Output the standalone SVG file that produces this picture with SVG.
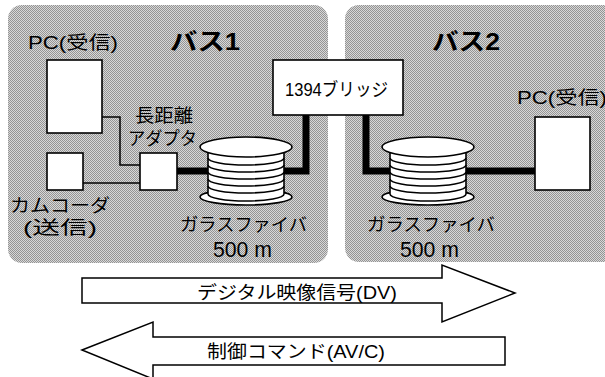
<svg xmlns="http://www.w3.org/2000/svg" width="605" height="377" viewBox="0 0 605 377">
  <defs>
    <!-- dithered grey used for the two bus areas -->
    <pattern id="dither" width="2" height="2" patternUnits="userSpaceOnUse">
      <rect width="2" height="2" fill="#d8d8d8"/>
      <rect x="0" y="0" width="1" height="1" fill="#949494"/>
      <rect x="1" y="1" width="1" height="1" fill="#949494"/>
    </pattern>
    <!-- fibre spool, origin at the centre of its top face -->
    <g id="spool">
      <ellipse cx="0" cy="50" rx="46" ry="8" class="box"/>
      <path d="M-38,0 V47 A38,7 0 0 0 38,47 V0 Z" class="box"/>
      <path d="M-38,11 A38,7 0 0 0 38,11 M-38,18 A38,7 0 0 0 38,18 M-38,25 A38,7 0 0 0 38,25 M-38,32 A38,7 0 0 0 38,32 M-38,39 A38,7 0 0 0 38,39" class="stripe"/>
      <ellipse cx="0" cy="0" rx="46" ry="10" class="box"/>
    </g>
  </defs>
  <style>
    .panel { fill: url(#dither); stroke: none; }
    .box { fill: #ffffff; stroke: #000000; stroke-width: 1.6; }
    .stripe { fill: none; stroke: #000000; stroke-width: 1.6; }
    .thin { fill: none; stroke: #000000; stroke-width: 1.5; }
    .fibre { fill: none; stroke: #000000; stroke-width: 7; stroke-linejoin: miter; }
    .arrow { fill: #ffffff; stroke: #000000; stroke-width: 1.5; stroke-linejoin: miter; }
    text { font-family: "Liberation Sans", "Noto Sans CJK JP", sans-serif; fill: #000000; font-size: 18px; }
    .title { font-size: 24px; font-weight: bold; }
    .num { font-size: 22px; }
  </style>

  <rect width="605" height="377" fill="#ffffff"/>

  <!-- bus areas -->
  <g id="bus1">
    <rect class="panel" x="8" y="5" width="320" height="258" rx="14"/>
    <text class="title" x="170" y="50" textLength="70" lengthAdjust="spacingAndGlyphs">バス1</text>
  </g>
  <g id="bus2">
    <rect class="panel" x="345" y="5" width="280" height="257" rx="14"/>
    <text class="title" x="432" y="50" textLength="68" lengthAdjust="spacingAndGlyphs">バス2</text>
  </g>

  <!-- connectors -->
  <g id="connectors">
    <path class="thin" d="M102,117 H120 V165 H140"/>
    <path class="thin" d="M83,183 H140"/>
    <path class="fibre" d="M177,171 H306 V114"/>
    <path class="fibre" d="M366,114 V171 H536"/>
  </g>

  <!-- bus 1 devices -->
  <g id="pc1">
    <text x="28" y="49" textLength="90" lengthAdjust="spacingAndGlyphs">PC(受信)</text>
    <rect class="box" x="47" y="60" width="55" height="73"/>
  </g>
  <g id="camcorder">
    <rect class="box" x="47" y="153" width="36" height="37"/>
    <text x="10" y="212" textLength="100" lengthAdjust="spacingAndGlyphs">カムコーダ</text>
    <text x="23" y="234" textLength="74" lengthAdjust="spacingAndGlyphs">(送信)</text>
  </g>
  <g id="adapter">
    <text x="135" y="122" textLength="58" lengthAdjust="spacingAndGlyphs">長距離</text>
    <text x="128" y="145" textLength="69" lengthAdjust="spacingAndGlyphs">アダプタ</text>
    <rect class="box" x="140" y="153" width="37" height="37"/>
  </g>
  <g id="fibre1">
    <use href="#spool" x="246" y="147"/>
    <text x="180" y="231" textLength="127" lengthAdjust="spacingAndGlyphs">ガラスファイバ</text>
    <text class="num" x="213" y="257" textLength="59" lengthAdjust="spacingAndGlyphs">500 m</text>
  </g>

  <!-- bridge -->
  <g id="bridge">
    <rect class="box" x="273" y="60" width="130" height="55"/>
    <text x="285" y="96" textLength="103" lengthAdjust="spacingAndGlyphs">1394ブリッジ</text>
  </g>

  <!-- bus 2 devices -->
  <g id="fibre2">
    <use href="#spool" x="428" y="147"/>
    <text x="367" y="231" textLength="128" lengthAdjust="spacingAndGlyphs">ガラスファイバ</text>
    <text class="num" x="400" y="257" textLength="59" lengthAdjust="spacingAndGlyphs">500 m</text>
  </g>
  <g id="pc2">
    <text x="517" y="104" textLength="90" lengthAdjust="spacingAndGlyphs">PC(受信)</text>
    <rect class="box" x="535" y="117" width="55" height="73"/>
  </g>

  <!-- data flows -->
  <g id="flow-dv">
    <polygon class="arrow" points="82,278 442,278 442,265 515,293 442,322 442,303 82,303"/>
    <text x="197" y="299" textLength="200" lengthAdjust="spacingAndGlyphs">デジタル映像信号(DV)</text>
  </g>
  <g id="flow-avc">
    <polygon class="arrow" points="82,350 153,322 153,337 505,337 505,365 153,365 153,379"/>
    <text x="207" y="358" textLength="178" lengthAdjust="spacingAndGlyphs">制御コマンド(AV/C)</text>
  </g>
</svg>
